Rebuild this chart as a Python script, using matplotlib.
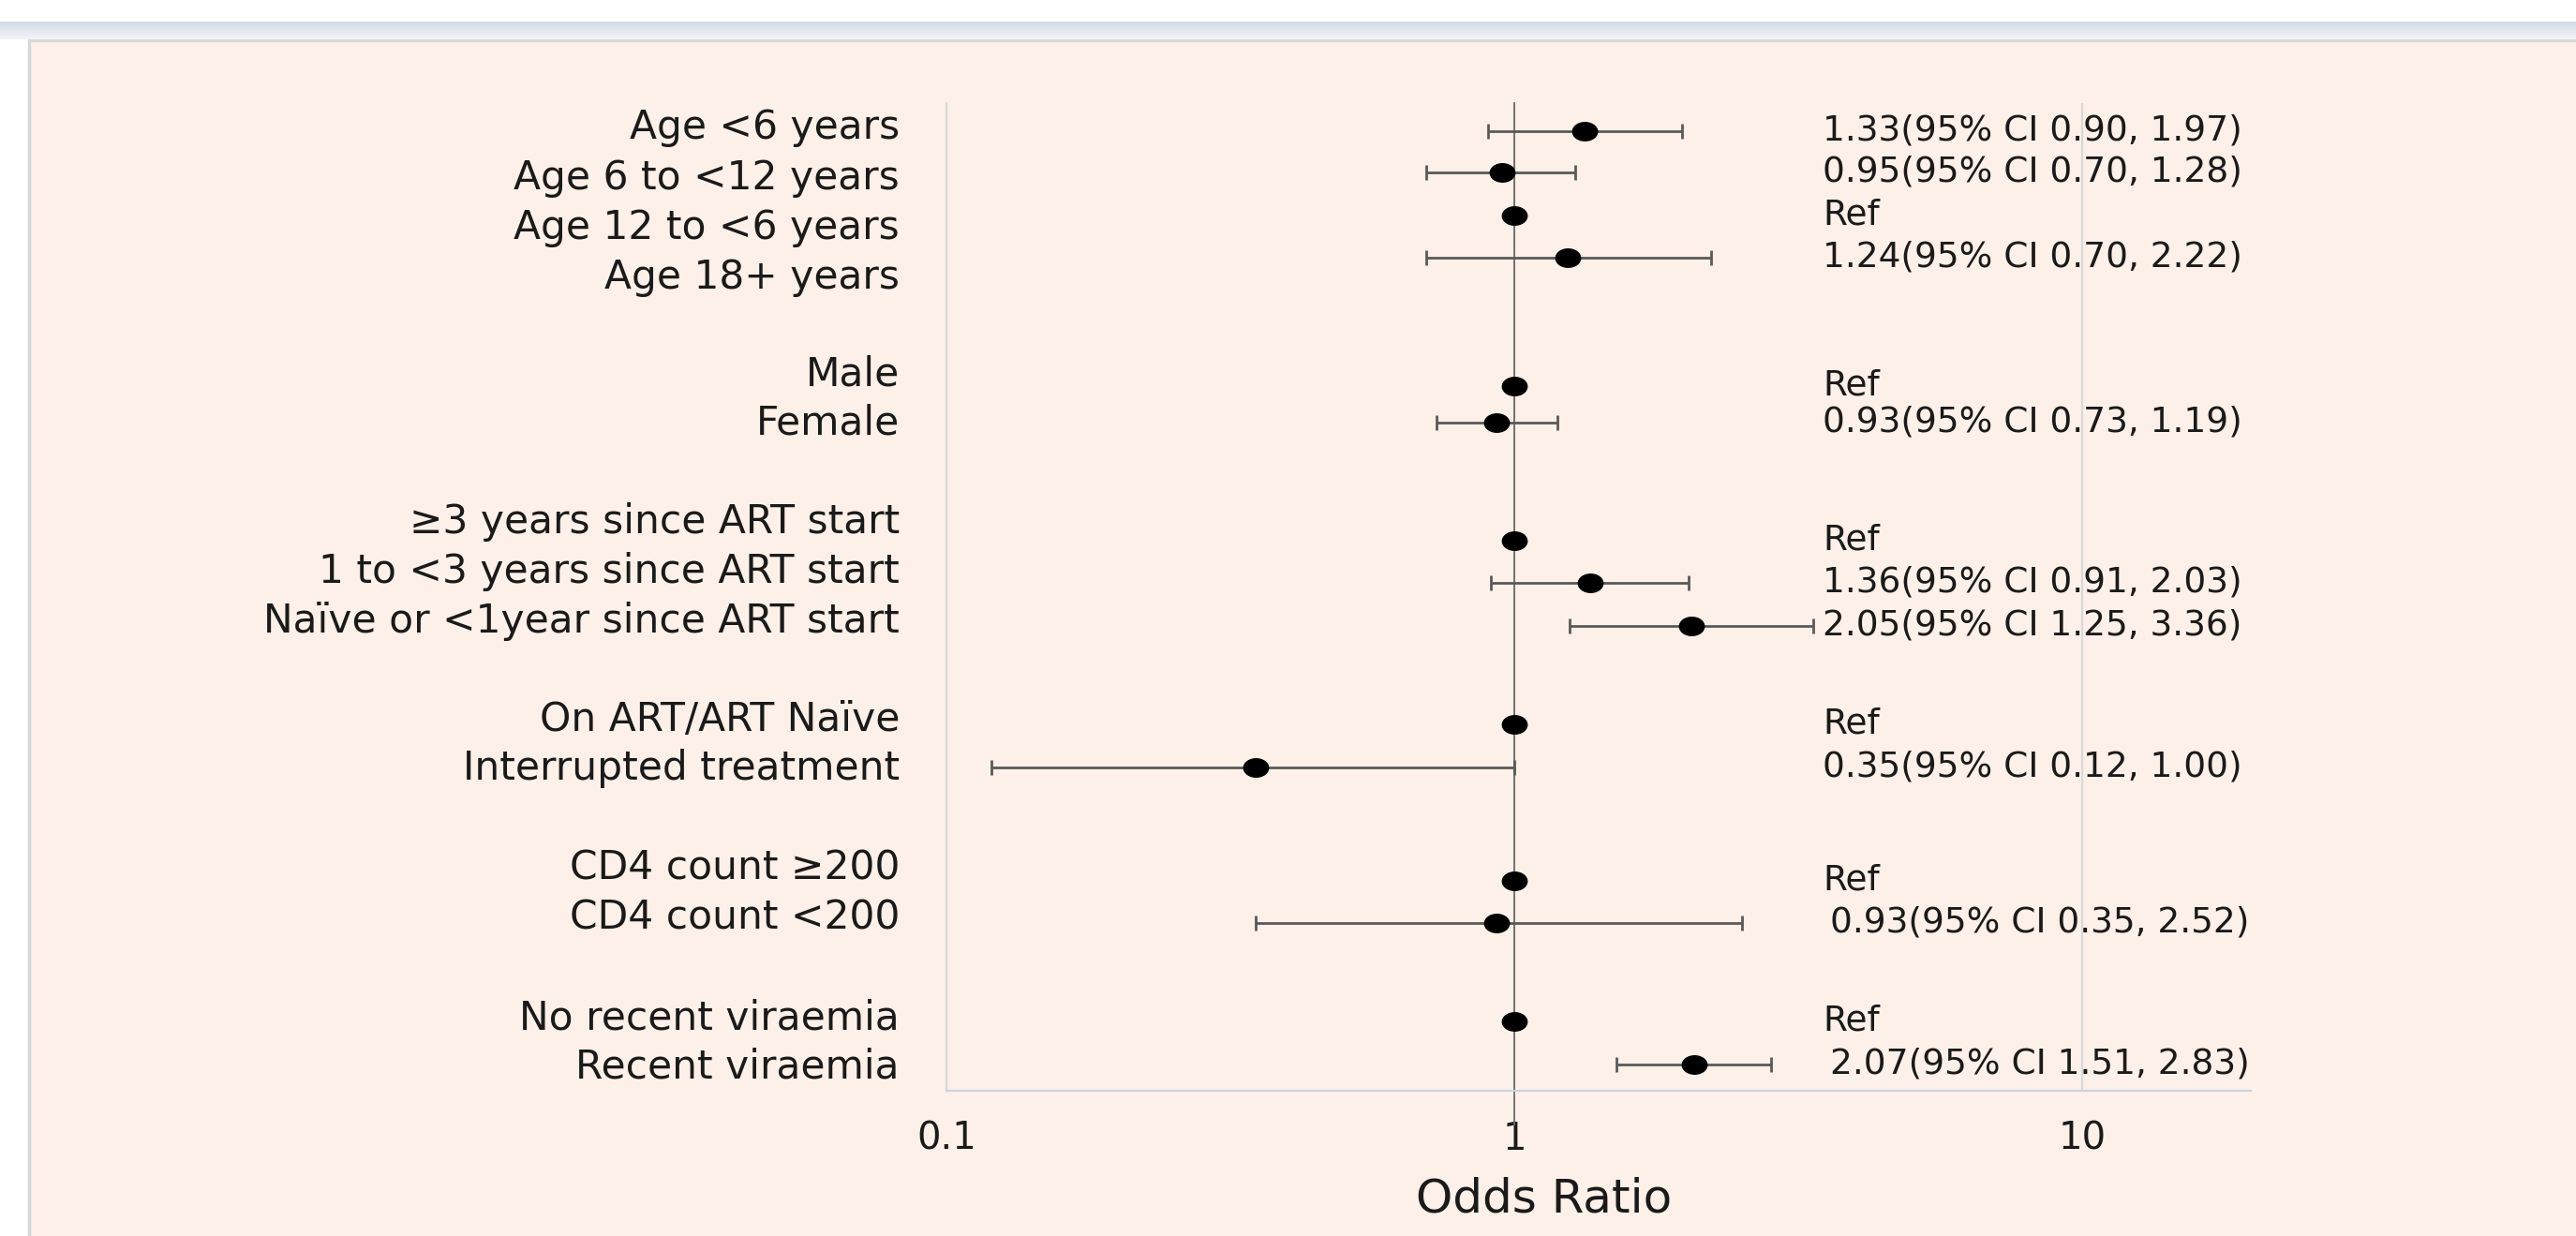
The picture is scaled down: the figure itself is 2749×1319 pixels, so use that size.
import numpy as np
import matplotlib
matplotlib.use("Agg")
import matplotlib.pyplot as plt
from matplotlib.patches import Rectangle
from matplotlib.path import Path
from matplotlib.transforms import Affine2D, blended_transform_factory

plt.rcParams['font.family'] = ['DejaVu Sans']

# rows of the forest plot, top to bottom
labels = ['Age <6 years', 'Age 6 to <12 years', 'Age 12 to <6 years', 'Age 18+ years',
          'Male', 'Female',
          '\u22653 years since ART start', '1 to <3 years since ART start',
          'Na\u00efve or <1year since ART start',
          'On ART/ART Na\u00efve', 'Interrupted treatment',
          'CD4 count \u2265200', 'CD4 count <200',
          'No recent viraemia', 'Recent viraemia']
odds = [1.33, 0.95, 1.00, 1.24, 1.00, 0.93, 1.00, 1.36, 2.05, 1.00, 0.35, 1.00, 0.93, 1.00, 2.07]
ci_lo = [0.90, 0.70, np.nan, 0.70, np.nan, 0.73, np.nan, 0.91, 1.25, np.nan, 0.12, np.nan, 0.35, np.nan, 1.51]
ci_hi = [1.97, 1.28, np.nan, 2.22, np.nan, 1.19, np.nan, 2.03, 3.36, np.nan, 1.00, np.nan, 2.52, np.nan, 2.83]
is_ref = [False, False, True, False, True, False, True, False, False, True, False, True, False, True, False]

# vertical positions (chart units, top = 110, bottom = 1164)
row_y = [140, 184, 230, 275, 412, 451, 577, 622, 668, 773, 819, 940, 985, 1090, 1136]
label_y = [136, 190, 243, 296, 400, 452, 557, 610, 663, 768, 820, 927, 980, 1087, 1139]

xticks = [0.1, 1, 10]
xtick_labels = ['0.1', '1', '10']

W, H = 2749, 1319
fig = plt.figure(figsize=(W / 100, H / 100), dpi=100)
fig.patch.set_facecolor('white')

# window-like band at the top
band = fig.add_axes([0, 1 - 42 / H, 1, 19 / H])
grad = np.linspace(0, 1, 50).reshape(-1, 1)
top_c = np.array([0.82, 0.86, 0.90])
bot_c = np.array([0.95, 0.96, 0.97])
img = top_c + (bot_c - top_c) * grad[:, :, None]
band.imshow(np.repeat(img, 2, axis=1), aspect='auto', extent=[0, 1, 0, 1])
band.axis('off')

# chart panel
fig.patches.append(Rectangle((31 / W, -0.05), 1.0, 1 - 43 / H + 0.05,
                             transform=fig.transFigure, facecolor='#fdf0e8',
                             edgecolor='#d8d8d8', lw=2.5, zorder=-10))

ax = fig.add_axes([1010 / W, 1 - 1164 / H, (2402 - 1010) / W, (1164 - 110) / H])
ax.set_zorder(5)
ax.set_facecolor('none')
ax.set_xscale('log')
ax.set_xlim(0.1, 19.8)
ax.set_ylim(1164, 110)

ax.set_xticks(xticks)
ax.set_xticklabels(xtick_labels)
ax.xaxis.set_minor_locator(matplotlib.ticker.NullLocator())
ax.set_yticks([])
ax.tick_params(axis='x', length=0, pad=23, labelsize=29, labelcolor='#1a1a1a')
ax.grid(axis='x', color='#d9d9d9', lw=1.6, zorder=0)

for s in ['top', 'right']:
    ax.spines[s].set_visible(False)
ax.spines['left'].set_color('#d9d9d9')
ax.spines['left'].set_linewidth(1.6)
ax.spines['bottom'].set_color('#c8d4e6')
ax.spines['bottom'].set_linewidth(1.6)

# reference line at OR = 1
ax.axvline(1, ymin=-0.034, ymax=1, color='#6a6a6a', lw=1.3, clip_on=False, zorder=2)

odds_a = np.array(odds)
lo_a = np.array(ci_lo)
hi_a = np.array(ci_hi)
y_a = np.array(row_y)
ref_a = np.array(is_ref)
m = ~ref_a

ax.errorbar(odds_a[m], y_a[m], xerr=[odds_a[m] - lo_a[m], hi_a[m] - odds_a[m]],
            fmt='none', ecolor='#595959', elinewidth=2.0, capsize=6, capthick=2.0, zorder=3)

ellipse = Path.unit_circle().transformed(Affine2D().scale(1.0, 0.74))
ax.plot(odds_a, y_a, ls='none', marker=ellipse, markersize=19, color='black', zorder=4)

# category labels to the left of the plot
trans_lab = blended_transform_factory(fig.transFigure, ax.transData)
for lab, ly in zip(labels, label_y):
    ax.text(960 / W, ly, lab, transform=trans_lab, ha='right', va='center',
            fontsize=30.5, color='#1a1a1a')

# OR (CI) notes on the right
trans_note = blended_transform_factory(ax.transAxes, ax.transData)
for i, (o, lo, hi, r, yy) in enumerate(zip(odds, ci_lo, ci_hi, is_ref, row_y)):
    if r:
        txt = 'Ref'
        nx = 0.6717
    else:
        txt = '%.2f(95%% CI %.2f, %.2f)' % (o, lo, hi)
        nx = 0.6774 if i >= 12 else 0.6717
    ax.text(nx, yy, txt, transform=trans_note, ha='left', va='center',
            fontsize=27, color='#1a1a1a')

fig.text(1648 / W, 1 - 1279 / H, 'Odds Ratio', ha='center', va='center',
         fontsize=36, color='#1a1a1a')

fig.savefig('out.png', dpi=100, facecolor=fig.get_facecolor())
